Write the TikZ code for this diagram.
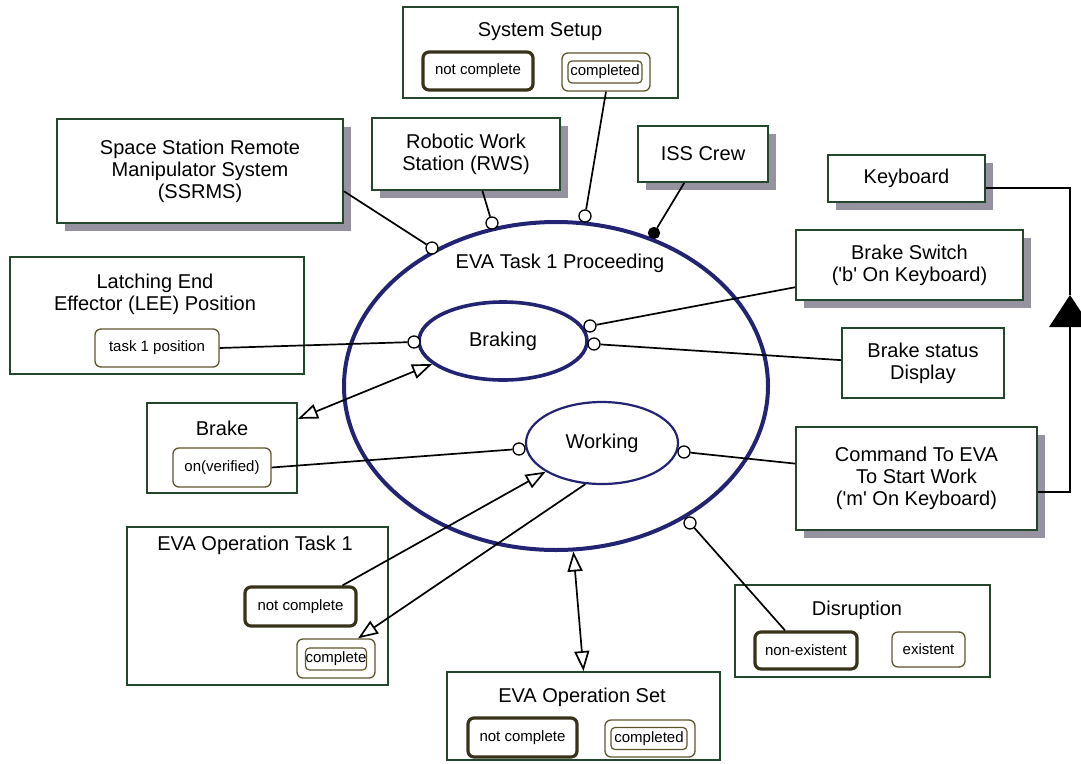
\documentclass[tikz,border=0pt]{standalone}
\usepackage{fontspec}
\setmainfont{Liberation Sans}
\usetikzlibrary{shapes.geometric,arrows.meta,shadows,calc}

\definecolor{boxline}{RGB}{35,70,45}
\definecolor{navy}{RGB}{35,35,115}
\definecolor{stateline}{RGB}{95,85,45}
\definecolor{statedark}{RGB}{55,50,25}
\definecolor{shadowgray}{RGB}{150,146,160}

\newcommand\ttlfont{\fontsize{20}{22}\selectfont}
\newcommand\stfont{\fontsize{15}{17}\selectfont}

\begin{document}
\begin{tikzpicture}[x=1pt,y=-1pt,
  obj/.style={rectangle, draw=boxline, line width=1.8pt, fill=white, inner sep=0pt, align=center, font=\ttlfont},
  phys/.style={obj, general shadow={fill=shadowgray, shadow xshift=8pt, shadow yshift=-8pt}},
  ttl/.style={inner sep=0pt, align=center, font=\ttlfont},
  st/.style={rectangle, rounded corners=6pt, draw=stateline, line width=1.3pt, fill=white, inner sep=0pt, font=\stfont},
  stinit/.style={st, draw=statedark, line width=3.2pt},
  stin/.style={st, rounded corners=4pt, line width=1.2pt},
  proc/.style={ellipse, draw=navy, fill=white, inner sep=0pt, font=\ttlfont},
  pin/.style={circle, draw=black, fill=white, line width=1.3pt, minimum size=12pt, inner sep=0pt},
  agentpin/.style={pin, fill=black},
  link/.style={line width=1.7pt, black},
  tip/.style={Triangle[open, length=20pt, width=15pt, line width=1.5pt]},
  fx/.style={link, {Triangle[open, length=20pt, width=15pt]}-{Triangle[open, length=20pt, width=15pt]}},
  res/.style={link, -{Triangle[open, length=20pt, width=15pt]}}
]
\useasboundingbox (0,0) rectangle (1081,763);

% ---------- objects ----------
\node[obj, minimum width=275pt, minimum height=91pt] (sys) at (540.5,52.5) {};
\node[ttl] (sysT) at (540,32) {System Setup};
\node[stinit, minimum width=110pt, minimum height=38pt] (sysNC) at (478,71) {not complete};
\node[st, minimum width=88pt, minimum height=38pt] (sysC) at (606,72) {};
\node[stin, minimum width=74pt, minimum height=22pt] (sysCi) at (605,72) {completed};

\node[phys, minimum width=286pt, minimum height=104pt] (ssrms) at (200,171) {Space Station Remote\\Manipulator System\\(SSRMS)};
\node[phys, minimum width=188pt, minimum height=72pt] (rws) at (466,154) {Robotic Work\\Station (RWS)};
\node[phys, minimum width=130pt, minimum height=56pt] (crew) at (703,154) {ISS Crew};
\node[phys, minimum width=157pt, minimum height=47pt] (kbd) at (906.5,178.5) {Keyboard};
\node[phys, minimum width=227pt, minimum height=70pt] (bsw) at (909.5,265) {Brake Switch\\(\textquotesingle b\textquotesingle{} On Keyboard)};
\node[obj, minimum width=162pt, minimum height=70pt] (bsd) at (923,363) {Brake status\\Display};
\node[phys, minimum width=241pt, minimum height=103pt] (cmd) at (916.5,478.5) {Command To EVA\\To Start Work\\(\textquotesingle m\textquotesingle{} On Keyboard)};

\node[obj, minimum width=294pt, minimum height=117pt] (lee) at (157,315.5) {};
\node[ttl] (leeT) at (155,294.5) {Latching End\\Effector (LEE) Position};
\node[st, minimum width=124pt, minimum height=38pt] (leeS) at (157,348) {task 1 position};

\node[obj, minimum width=150pt, minimum height=90pt] (brake) at (222,448) {};
\node[ttl] (brakeT) at (222,428) {Brake};
\node[st, minimum width=98pt, minimum height=39pt] (brakeS) at (222,467.5) {on(verified)};

\node[obj, minimum width=261pt, minimum height=158pt] (eot) at (257.5,606) {};
\node[ttl] (eotT) at (255,545) {EVA Operation Task 1};
\node[stinit, minimum width=111pt, minimum height=39pt] (eotNC) at (300.5,606.5) {not complete};
\node[st, minimum width=78pt, minimum height=39pt] (eotC) at (336,658.5) {};
\node[stin, minimum width=61pt, minimum height=22pt] (eotCi) at (336,659) {complete};

\node[obj, minimum width=273pt, minimum height=88pt] (eos) at (583.5,716) {};
\node[ttl] (eosT) at (582,697) {EVA Operation Set};
\node[stinit, minimum width=109pt, minimum height=39pt] (eosNC) at (522.5,737.5) {not complete};
\node[st, minimum width=90pt, minimum height=37pt] (eosC) at (650,738.5) {};
\node[stin, minimum width=76pt, minimum height=22pt] (eosCi) at (649,738.5) {completed};

\node[obj, minimum width=255pt, minimum height=92pt] (dis) at (862.5,631) {};
\node[ttl] (disT) at (857,610) {Disruption};
\node[stinit, minimum width=102pt, minimum height=37pt] (disNE) at (806,650.5) {non-existent};
\node[st, minimum width=73pt, minimum height=35pt] (disE) at (928.5,649.5) {existent};

% ---------- processes ----------
\node[proc, line width=4pt, minimum width=424pt, minimum height=328pt] (proc) at (556,386) {};
\node[ttl] (procT) at (560,263) {EVA Task 1 Proceeding};
\node[proc, line width=3.6pt, minimum width=168pt, minimum height=78pt] (brk) at (503,341) {Braking};
\node[proc, line width=2.2pt, minimum width=152pt, minimum height=82pt] (work) at (602,443) {Working};

% ---------- link end markers ----------
\node[pin] (p1) at (432,248) {};
\node[pin] (p2) at (492,223) {};
\node[pin] (p3) at (585,216) {};
\node[agentpin, minimum size=11pt] (p4) at (654,233) {};
\node[pin] (p5) at (414,342) {};
\node[pin] (p6) at (590,326) {};
\node[pin] (p7) at (594,344) {};
\node[pin] (p8) at (519,449) {};
\node[pin] (p9) at (684,452) {};
\node[pin] (p10) at (690,523) {};

% ---------- connectors ----------
\draw[link] (ssrms.352.4) -- (p1);
\draw[link] (rws.294) -- (p2);
\draw[link] (sysC.south) -- (p3);
\draw[link] (crew.237) -- (p4);
\draw[link] (leeS.east) -- (p5);
\draw[link] (bsw.191) -- (p6);
\draw[link] (bsd.178) -- (p7);
\draw[link] (brakeS.east) -- (p8);
\draw[link] (cmd.173.6) -- (p9);
\coordinate (disIn) at ($(disNE.north)+(-21,0)$);
\draw[link] (p10) -- (disIn);

\draw[fx] (brake.21.5) -- (brk.198);
\draw[fx] (proc.276) -- (eos.north);
\coordinate (eotOut) at ($(eotNC.north)+(42,0)$);
\draw[res] (eotOut) -- (work.207);
\coordinate (eotIn) at ($(eotC.north)+(22,0)$);
\draw[res] (work.248) -- (eotIn);

% aggregation of the keyboard
\coordinate (aggTop) at (1070,295);
\coordinate (aggBot) at (1070,327);
\coordinate (kTurn) at (1070,188);
\coordinate (cTurn) at (1070,492);
\draw[link] (kbd.east |- kTurn) -- (kTurn) -- (aggTop);
\draw[link] (aggBot) -- (cTurn) -- (cmd.east |- cTurn);
\fill[black] (aggTop) -- ++(21,32) -- ++(-42,0) -- cycle;
\end{tikzpicture}
\end{document}
